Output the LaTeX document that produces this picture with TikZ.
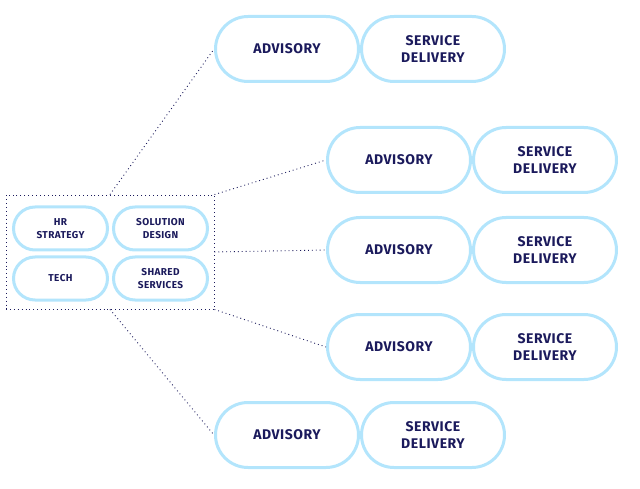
\documentclass[tikz,border=0pt]{standalone}
\usepackage{fontspec}
\setmainfont{Fira Sans}
\newfontfamily\pillfont[LetterSpace=4]{Fira Sans}
\usetikzlibrary{positioning}
\definecolor{pillblue}{HTML}{B3E5FC}
\definecolor{navy}{HTML}{1B1A5C}
\tikzstyle{pill}=[draw=pillblue,line width=3pt,fill=white,rounded corners=32.5pt,minimum width=143pt,minimum height=65pt,inner sep=0pt,align=center,text=navy,font=\pillfont\fontsize{14}{17}\selectfont\bfseries]
\tikzstyle{minipill}=[draw=pillblue,line width=3pt,fill=white,rounded corners=21.5pt,minimum width=94pt,minimum height=43pt,inner sep=0pt,align=center,text=navy,font=\pillfont\fontsize{10}{12.5}\selectfont\bfseries]
\tikzstyle{link}=[draw=navy,line width=0.9pt,dash pattern=on 0.9pt off 3pt]

\begin{document}
\begin{tikzpicture}[x=1pt,y=-1pt]
    \useasboundingbox (0,0) rectangle (640,489);
    % outer group
    \node[link,minimum width=208pt,minimum height=114pt,inner sep=0pt] (group) at (110,252) {};
    \node[minipill] (hr) at (60.5,228.5) {HR\\STRATEGY};
    \node[minipill] (sol) at (160.5,228.5) {SOLUTION\\DESIGN};
    \node[minipill] (tech) at (60.5,278.5) {TECH};
    \node[minipill] (shared) at (160.5,278.5) {SHARED\\SERVICES};

    % advisory / service delivery rows
    \foreach \i/\x/\y in {1/287/49,2/399/160,3/399/250,4/399/347,5/287/435}
    {
        \node[pill] (adv\i) at (\x,\y) {ADVISORY};
        \node[pill,right=0pt of adv\i] (sd\i) {SERVICE\\DELIVERY};
    }

    \foreach \from/\to in {group.north/adv1,group.north east/adv2,group.east/adv3,group.south east/adv4,group.south/adv5}
    \draw[link] (\from) -- (\to.west);
\end{tikzpicture}
\end{document}
